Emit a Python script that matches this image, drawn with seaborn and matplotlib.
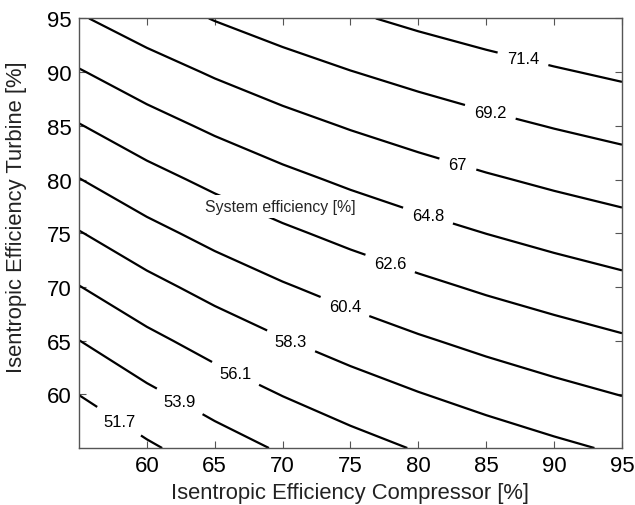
import numpy as np
import matplotlib
matplotlib.use("Agg")
import matplotlib.pyplot as plt
import seaborn as sns

# Grid (isentropic efficiencies, %)
compressor_eff = [55, 60, 65, 70, 75, 80, 85, 90, 95]
turbine_eff = [55, 60, 65, 70, 75, 80, 85, 90, 95]

# System efficiency [%], one row per turbine efficiency
sys_t55 = [49.58, 51.36, 52.87, 54.16, 55.28, 56.26, 57.12, 57.89, 58.58]
sys_t60 = [51.73, 53.46, 54.92, 56.17, 57.26, 58.21, 59.05, 59.79, 60.46]
sys_t65 = [53.88, 55.56, 56.97, 58.19, 59.24, 60.16, 60.97, 61.69, 62.34]
sys_t70 = [56.04, 57.66, 59.03, 60.20, 61.22, 62.11, 62.90, 63.59, 64.22]
sys_t75 = [58.19, 59.76, 61.08, 62.22, 63.20, 64.06, 64.82, 65.50, 66.10]
sys_t80 = [60.34, 61.86, 63.13, 64.23, 65.18, 66.01, 66.75, 67.40, 67.98]
sys_t85 = [62.50, 63.96, 65.19, 66.25, 67.16, 67.96, 68.67, 69.30, 69.86]
sys_t90 = [64.65, 66.05, 67.24, 68.26, 69.14, 69.91, 70.60, 71.20, 71.74]
sys_t95 = [66.80, 68.15, 69.30, 70.27, 71.12, 71.87, 72.52, 73.10, 73.62]

levels = [51.7, 53.9, 56.1, 58.3, 60.4, 62.6, 64.8, 67, 69.2, 71.4]
tick_vals = [60, 65, 70, 75, 80, 85, 90, 95]

Z = np.array([sys_t55, sys_t60, sys_t65, sys_t70, sys_t75,
              sys_t80, sys_t85, sys_t90, sys_t95])
X, Y = np.meshgrid(compressor_eff, turbine_eff)

sns.set_theme(style="white", rc={
    "xtick.direction": "in", "ytick.direction": "in",
    "xtick.top": True, "ytick.right": True,
    "xtick.bottom": True, "ytick.left": True,
    "xtick.major.size": 5, "ytick.major.size": 5,
    "xtick.major.width": 0.8, "ytick.major.width": 0.8,
    "xtick.color": "#555555", "ytick.color": "#555555",
    "axes.edgecolor": "#555555", "axes.linewidth": 1.0,
})
plt.rcParams["font.family"] = ["Liberation Sans", "DejaVu Sans"]

fig = plt.figure(figsize=(6.35, 5.06), dpi=100)
ax = fig.add_axes([0.1244, 0.1126, 0.8551, 0.849])

cs = ax.contour(X, Y, Z, levels=levels, colors="black", linewidths=1.6)
label_pos = [(57.8, 57.2), (62.4, 59.3), (66.4, 61.6), (70.5, 64.6),
             (74.6, 68.2), (77.9, 72.1), (80.7, 76.6), (82.9, 81.4),
             (85.3, 86.3), (87.7, 91.2)]
texts = ax.clabel(cs, inline=True, fmt="%g", fontsize=12, manual=label_pos,
                  inline_spacing=10)
for t in texts:
    t.set_rotation(0)

ax.text(69.8, 77.5, "System efficiency [%]", fontsize=11.4, ha="center",
        va="center", bbox=dict(facecolor="white", edgecolor="none", pad=3))

ax.set_xlim(55, 95)
ax.set_ylim(55, 95)
ax.set_xticks(tick_vals)
ax.set_yticks(tick_vals)
ax.tick_params(labelsize=16, labelcolor="black", pad=5)
ax.set_xlabel("Isentropic Efficiency Compressor [%]", fontsize=15.8,
              color="#222222", labelpad=4)
ax.set_ylabel("Isentropic Efficiency Turbine [%]", fontsize=15.8,
              color="#222222")
ax.yaxis.set_label_coords(-0.096, 0.54)

fig.savefig("out.png", dpi=100)
